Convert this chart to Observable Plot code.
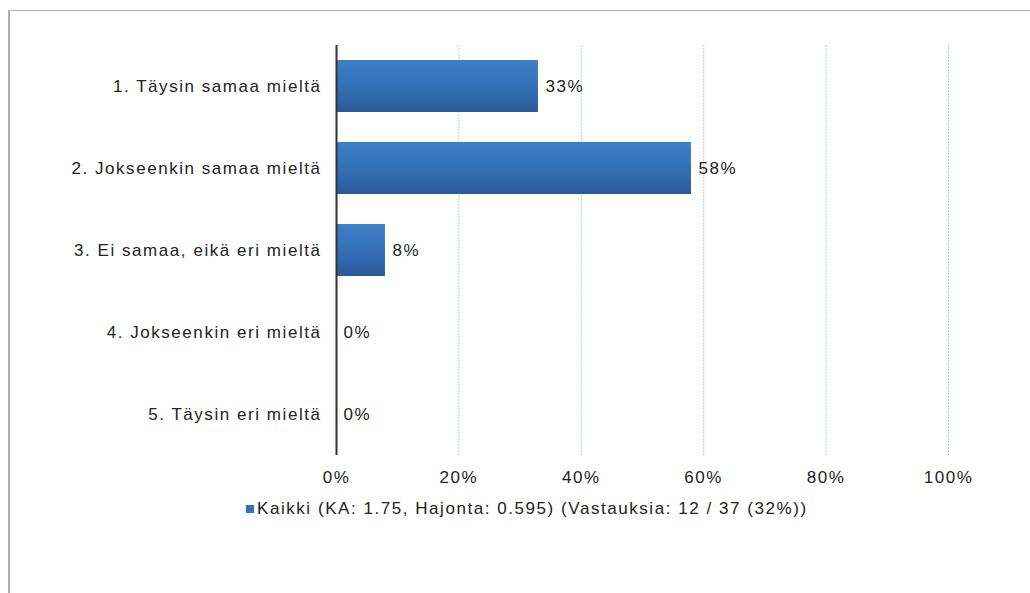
<!DOCTYPE html>
<html>
<head>
<meta charset="utf-8">
<script src="https://cdn.jsdelivr.net/npm/d3@7"></script>
<script src="https://cdn.jsdelivr.net/npm/@observablehq/plot@0.6"></script>
<style>
  html, body { margin: 0; padding: 0; background: #fff; }
  body { width: 1030px; height: 593px; position: relative; overflow: hidden; font-family: "Liberation Sans", Arial, sans-serif; }
  #frame { position: absolute; left: 8px; top: 10px; width: 1030px; height: 600px; border-top: 1px solid #b0b0b0; border-left: 2px solid #b0b0b0; }
  #chart { position: absolute; left: 0; top: 0; }
  #legend { position: absolute; left: 246px; top: 499px; font-size: 17px; letter-spacing: 1.55px; color: #222; display: flex; align-items: center; white-space: nowrap; }
  #legend .sw { width: 8px; height: 8px; background: #3570b8; margin-right: 3px; }
</style>
</head>
<body>
<div id="frame"></div>
<div id="chart"></div>
<div id="legend"><span class="sw"></span><span id="legendText"></span></div>
<script>
const categories = [
  "1. Täysin samaa mieltä",
  "2. Jokseenkin samaa mieltä",
  "3. Ei samaa, eikä eri mieltä",
  "4. Jokseenkin eri mieltä",
  "5. Täysin eri mieltä"
];
const values = [0.33, 0.58, 0.08, 0, 0];
const valueLabels = ["33%", "58%", "8%", "0%", "0%"];
const xTicks = [0, 0.2, 0.4, 0.6, 0.8, 1];
const seriesName = "Kaikki (KA: 1.75, Hajonta: 0.595) (Vastauksia: 12 / 37 (32%))";

const data = categories.map((c, i) => ({cat: c, value: values[i], label: valueLabels[i]}));
const fmt = d => Math.round(d * 100) + "%";

const chart = Plot.plot({
  width: 1030,
  height: 500,
  marginLeft: 336,
  marginRight: 82,
  marginTop: 45,
  marginBottom: 45,
  style: {fontFamily: "'Liberation Sans', Arial, sans-serif", fontSize: "17px", color: "#222", background: "transparent", letterSpacing: "1.55px", overflow: "visible"},
  x: {domain: [0, 1], ticks: xTicks, tickFormat: fmt, label: null},
  y: {domain: categories, paddingInner: 0.368, paddingOuter: 0.18, label: null},
  marks: [
    Plot.gridX(xTicks.slice(1), {stroke: "#b8cdd8", strokeOpacity: 1, strokeWidth: 1, strokeDasharray: "2,1"}),
    Plot.barX(data, {y: "cat", x: "value", fill: "url(#barGrad)"}),
    Plot.ruleX([0], {stroke: "#333", strokeWidth: 2}),
    Plot.text(data, {y: "cat", x: "value", text: "label", dx: 7, textAnchor: "start", fill: "#222", fontSize: 17}),
    Plot.axisX({ticks: xTicks, tickSize: 0, tickPadding: 15, tickFormat: fmt, fontSize: 17, fill: "#222", label: null}),
    Plot.axisY({tickSize: 0, tickPadding: 15, fontSize: 17, fill: "#222", label: null})
  ]
});

const ns = "http://www.w3.org/2000/svg";
const defs = document.createElementNS(ns, "defs");
defs.innerHTML = '<linearGradient id="barGrad" x1="0" y1="0" x2="0" y2="1">' +
  '<stop offset="0" stop-color="#3d7fc8"/>' +
  '<stop offset="0.5" stop-color="#3470b8"/>' +
  '<stop offset="1" stop-color="#2a5a9a"/></linearGradient>';
chart.insertBefore(defs, chart.firstChild);
document.getElementById("chart").appendChild(chart);
document.getElementById("legendText").textContent = seriesName;
</script>
</body>
</html>
